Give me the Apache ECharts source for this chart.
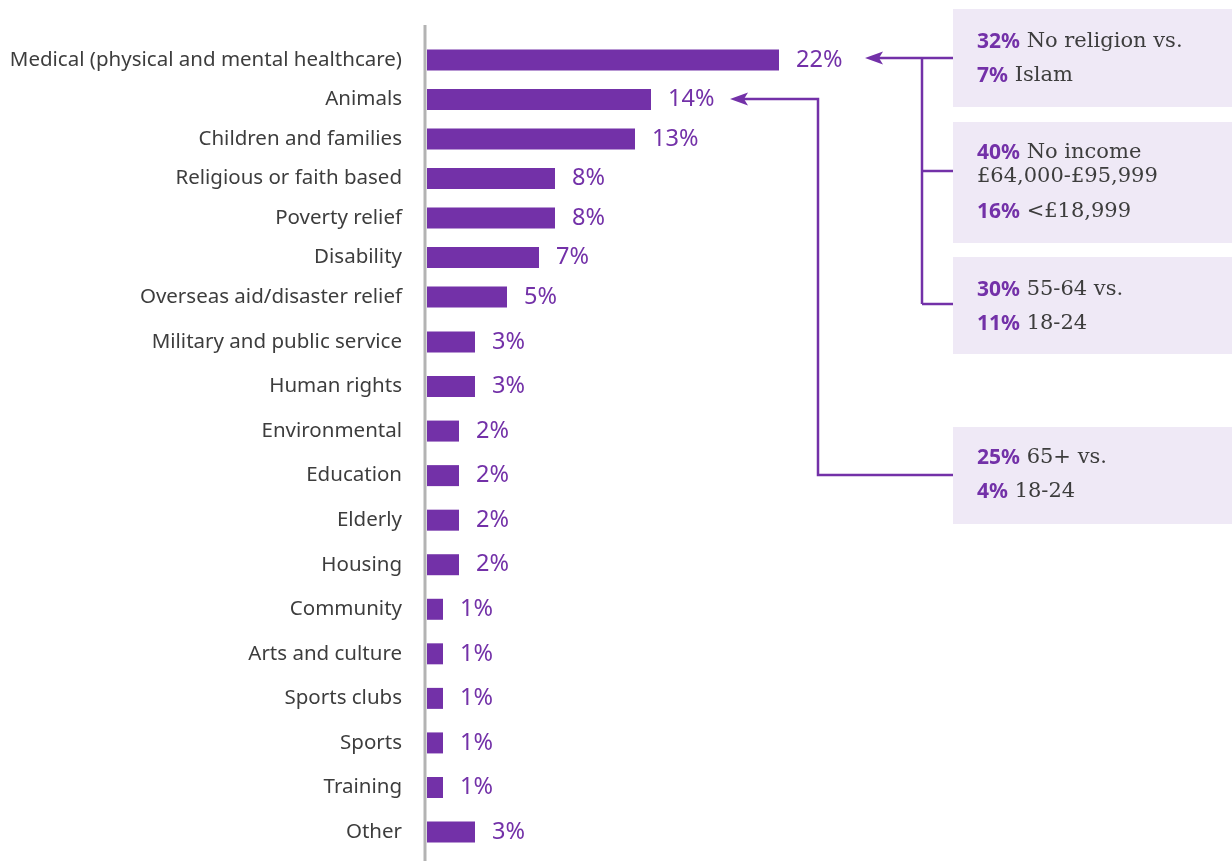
<!DOCTYPE html>
<html>
<head>
<meta charset="utf-8">
<script src="https://cdn.jsdelivr.net/npm/echarts@6/dist/echarts.min.js"></script>
<style>
  html, body { margin: 0; padding: 0; background: #ffffff; }
  #chart { width: 1232px; height: 861px; }
</style>
</head>
<body>
<div id="chart"></div>
<script>
// Cause areas supported, share of donors (%)
const categories = [
  'Medical (physical and mental healthcare)',
  'Animals',
  'Children and families',
  'Religious or faith based',
  'Poverty relief',
  'Disability',
  'Overseas aid/disaster relief',
  'Military and public service',
  'Human rights',
  'Environmental',
  'Education',
  'Elderly',
  'Housing',
  'Community',
  'Arts and culture',
  'Sports clubs',
  'Sports',
  'Training',
  'Other'
];
const values = [22, 14, 13, 8, 8, 7, 5, 3, 3, 2, 2, 2, 2, 1, 1, 1, 1, 1, 3];

// Callout notes: [bold figure, following text]
const medicalNotes = [
  [['32%', 'No religion vs.'], ['7%', 'Islam']],
  [['40%', 'No income'], ['', '£64,000-£95,999'], ['16%', '<£18,999']],
  [['30%', '55-64 vs.'], ['11%', '18-24']]
];
const animalNotes = [[['25%', '65+ vs.'], ['4%', '18-24']]];

const PURPLE = '#7331a8';
const BOX_BG = '#efe9f6';
const TEXT = '#3d3d3d';
const LABEL_FONT = '"Noto Sans", Roboto, sans-serif';

// upper block of rows is set a little tighter than the lower block
const splitAt = 7;
const cats1 = categories.slice(0, splitAt), vals1 = values.slice(0, splitAt);
const cats2 = categories.slice(splitAt), vals2 = values.slice(splitAt);

const plotLeft = 427, plotWidth = 480, xMax = 30;

function yAxisFor(idx, cats) {
  return {
    type: 'category', gridIndex: idx, data: cats, inverse: true,
    axisLine: { show: false }, axisTick: { show: false },
    axisLabel: {
      margin: 25, fontSize: 20.5, color: TEXT, fontFamily: LABEL_FONT,
      padding: [4, 0, 0, 0]
    }
  };
}
function xAxisFor(idx) {
  return { type: 'value', gridIndex: idx, min: 0, max: xMax, show: false };
}
function barSeries(idx, vals) {
  return {
    type: 'bar', xAxisIndex: idx, yAxisIndex: idx, data: vals,
    barWidth: 21, itemStyle: { color: PURPLE }, silent: true,
    label: {
      show: true, position: 'right', distance: 17,
      formatter: '{c}%', fontSize: 23.5, color: PURPLE, fontFamily: LABEL_FONT,
      padding: [2, 0, 0, 0]
    }
  };
}

const chart = echarts.init(document.getElementById('chart'), null, { renderer: 'canvas' });

// note boxes: [top, height, line centres]
const boxes = [
  { top: 9, h: 98, lines: [42, 76], note: medicalNotes[0] },
  { top: 122, h: 121, lines: [153, 177, 212], note: medicalNotes[1] },
  { top: 257, h: 97, lines: [290, 324], note: medicalNotes[2] },
  { top: 427, h: 97, lines: [458, 492], note: animalNotes[0] }
];
const boxLeft = 953, textLeft = 977;

const graphics = [];
// vertical axis rule
graphics.push({
  type: 'line', shape: { x1: 425, y1: 25, x2: 425, y2: 861 },
  style: { stroke: '#b3b3b3', lineWidth: 3 }, silent: true
});
boxes.forEach(b => {
  graphics.push({
    type: 'rect', shape: { x: boxLeft, y: b.top, width: 1232 - boxLeft, height: b.h },
    style: { fill: BOX_BG }, silent: true
  });
  b.note.forEach((ln, i) => {
    const txt = (ln[0] ? '{b|' + ln[0] + '}{t| ' : '{t|') + ln[1] + '}';
    graphics.push({
      type: 'text', x: textLeft, y: b.lines[i], silent: true,
      style: {
        text: txt, verticalAlign: 'middle', align: 'left',
        rich: {
          b: { fontFamily: '"Noto Sans", sans-serif', fontWeight: 'bold', fontSize: 21, fill: PURPLE },
          t: { fontFamily: '"DejaVu Serif", serif', fontSize: 21, fill: TEXT }
        }
      }
    });
  });
});

// connector from the medical notes to its bar label
const connA = { x: 922, ys: [58, 171, 304], tip: 865 };
connA.ys.forEach(y => graphics.push({
  type: 'line', shape: { x1: connA.x, y1: y, x2: boxLeft, y2: y },
  style: { stroke: PURPLE, lineWidth: 2.5 }, silent: true
}));
graphics.push({
  type: 'line', shape: { x1: connA.x, y1: connA.ys[0], x2: connA.x, y2: connA.ys[2] },
  style: { stroke: PURPLE, lineWidth: 2.5 }, silent: true
});
graphics.push({
  type: 'line', shape: { x1: connA.tip + 10, y1: connA.ys[0], x2: connA.x, y2: connA.ys[0] },
  style: { stroke: PURPLE, lineWidth: 2.5 }, silent: true
});
graphics.push({
  type: 'polygon', shape: { points: [[connA.tip, 58], [connA.tip + 18, 51.5], [connA.tip + 14, 58], [connA.tip + 18, 64.5]] },
  style: { fill: PURPLE }, silent: true
});

// connector from the age note to the animals label
const connB = { x: 818, yBox: 475, yBar: 99, tip: 730 };
graphics.push({
  type: 'polyline',
  shape: { points: [[boxLeft, connB.yBox], [connB.x, connB.yBox], [connB.x, connB.yBar], [connB.tip + 10, connB.yBar]] },
  style: { stroke: PURPLE, lineWidth: 2.5, fill: null }, silent: true
});
graphics.push({
  type: 'polygon', shape: { points: [[connB.tip, connB.yBar], [connB.tip + 18, connB.yBar - 6.5], [connB.tip + 14, connB.yBar], [connB.tip + 18, connB.yBar + 6.5]] },
  style: { fill: PURPLE }, silent: true
});

chart.setOption({
  animation: false,
  backgroundColor: '#ffffff',
  grid: [
    { left: plotLeft, width: plotWidth, top: 40.25, height: 276.5 },
    { left: plotLeft, width: plotWidth, top: 319.7, height: 534.6 }
  ],
  xAxis: [xAxisFor(0), xAxisFor(1)],
  yAxis: [yAxisFor(0, cats1), yAxisFor(1, cats2)],
  series: [barSeries(0, vals1), barSeries(1, vals2)],
  graphic: graphics
});
</script>
</body>
</html>
